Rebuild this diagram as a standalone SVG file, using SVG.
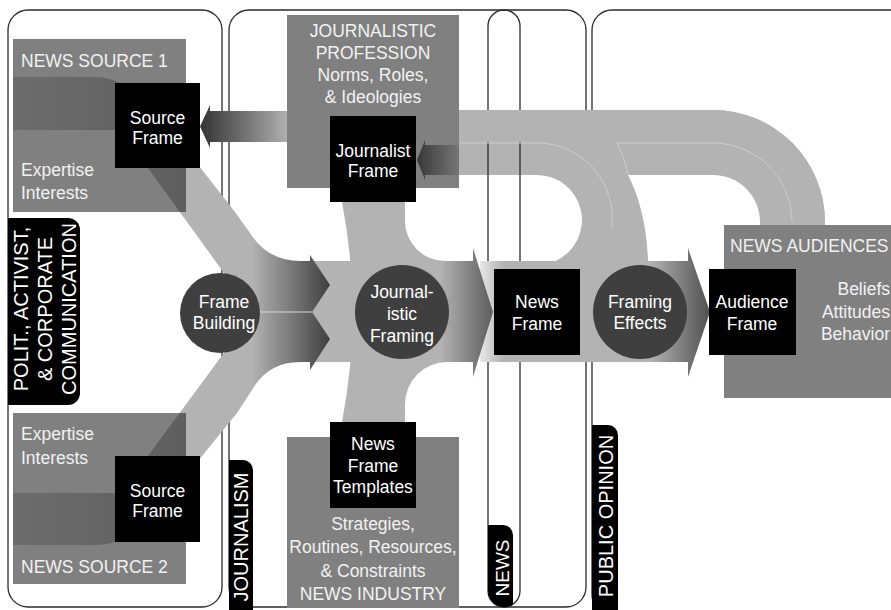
<svg xmlns="http://www.w3.org/2000/svg" width="891" height="610" viewBox="0 0 891 610">
<defs>
<style>
.frm{fill:none;stroke:#2b2b2b;stroke-width:1.3}
.lg{fill:#b3b3b3}
.wh{fill:#fff}
.box{fill:#808080}
.blk{fill:#000}
.cir{fill:#3f3f3f}
.tab{fill:#000}
.hl{fill:none;stroke:#cdcdcd;stroke-width:1}
text{font-family:"Liberation Sans",Arial,sans-serif;font-size:17.5px}
.tw{fill:#fff}
.tg{fill:#f2f2f2}
.c{text-anchor:middle}
.e{text-anchor:end}
.vt{font-size:20px;fill:#fff;text-anchor:middle}
</style>
<linearGradient id="gBand" gradientUnits="userSpaceOnUse" x1="252" y1="0" x2="330" y2="0"><stop offset="0" stop-color="#b3b3b3"/><stop offset="1" stop-color="#3f3f3f"/></linearGradient>
<linearGradient id="gA2" gradientUnits="userSpaceOnUse" x1="440" y1="0" x2="493" y2="0"><stop offset="0" stop-color="#b3b3b3"/><stop offset="1" stop-color="#5c5c5c"/></linearGradient>
<linearGradient id="gA3" gradientUnits="userSpaceOnUse" x1="480" y1="0" x2="710" y2="0"><stop offset="0" stop-color="#e8e8e8"/><stop offset="0.1" stop-color="#b3b3b3"/><stop offset="0.74" stop-color="#b3b3b3"/><stop offset="1" stop-color="#505050"/></linearGradient>
<linearGradient id="gSrc" gradientUnits="userSpaceOnUse" x1="205" y1="0" x2="290" y2="0"><stop offset="0" stop-color="#3a3a3a"/><stop offset="1" stop-color="#b3b3b3"/></linearGradient>
<linearGradient id="gJour" gradientUnits="userSpaceOnUse" x1="418" y1="0" x2="459" y2="0"><stop offset="0" stop-color="#3a3a3a"/><stop offset="1" stop-color="#767676"/></linearGradient>
<linearGradient id="gDark" gradientUnits="userSpaceOnUse" x1="13" y1="0" x2="190" y2="0"><stop offset="0" stop-color="#6c6c6c"/><stop offset="1" stop-color="#5e5e5e"/></linearGradient>
<clipPath id="clipS1"><rect x="13" y="39" width="173" height="173"/></clipPath>
<clipPath id="clipS2"><rect x="13" y="413" width="173" height="171"/></clipPath>
<path id="band1" d="M13,77 H92 C122,77 145,95 163,120 L235,212 L250,233 Q268,261 300,261 H310 V255 L330,285 L312,312 H258 L229,280 L148,168 L120,130 H13 Z"/>
<path id="band2" d="M13,545 H95 C125,545 147,526 163,504 L237,413 L252,390 Q268,362 300,362 H310 V370 L330,339 L312,312 H258 L229,346 L148,456 L118,493 H13 Z"/>
</defs>

<g id="frames">
<rect class="frm" x="8" y="10" width="214" height="597" rx="20"/>
<rect class="frm" x="229" y="10" width="357" height="597" rx="20"/>
<rect class="frm" x="592" y="10" width="330" height="605" rx="20"/>
</g>

<g id="connectors">
<path class="lg" d="M287,110 H713 A112,112 0 0 1 825,222 V226 H724 V261 H405 V143 H287 Z"/>
<path class="lg" d="M342,202 A580,580 0 0 1 342,422 H405 V202 Z"/>
<path class="lg" d="M405,362 H448 A42,42 0 0 0 405,404 Z"/>
<path class="wh" d="M405,175 H537 A45,45 0 0 1 555.5,261 H445 A40,40 0 0 1 405,221 Z"/>
<path class="wh" d="M628,175 H713 A47,47 0 0 1 760,222 V226 H724 V261 H648 C647,228 640,198 628,175 Z"/>
</g>

<g id="news-frame-pill">
<rect class="frm" x="488" y="10" width="32" height="597" rx="16"/>
</g>

<g id="feedback-bands">
<path class="lg" d="M287,110 H713 A112,112 0 0 1 825,222 V226 H793 V222 A80,80 0 0 0 713,142 H287 Z"/>
<path class="hl" d="M460,143 H545"/>
<path class="hl" d="M545,143.4 A75,75 0 0 1 611.5,228"/>
<path class="hl" d="M617,143 H713 A79,79 0 0 1 792,222"/>
<path class="hl" d="M617,143 C624,158 627,168 628,175"/>
<path d="M480,261 H688 V248 L710,312 L688,377 V362 H480 Z" fill="url(#gA3)"/>
<path d="M300,261 H473 V248 L493,312 L473,377 V362 H300 Z" fill="url(#gA2)"/>
<use href="#band1" fill="url(#gBand)"/>
<use href="#band2" fill="url(#gBand)"/>
<path d="M258,312 H312" stroke="#d8d8d8" stroke-width="1" fill="none"/>
</g>

<g id="news-source-1">
<rect class="box" x="13" y="39" width="173" height="173"/>
<use href="#band1" clip-path="url(#clipS1)" fill="url(#gDark)"/>
<rect class="blk" x="115" y="83" width="85" height="85"/>
<text class="tg" x="21" y="67">NEWS SOURCE 1</text>
<text class="tw c" x="157.5" y="124">Source</text>
<text class="tw c" x="157.5" y="144">Frame</text>
<text class="tg" x="21" y="176">Expertise</text>
<text class="tg" x="21" y="199">Interests</text>
</g>

<g id="news-source-2">
<rect class="box" x="13" y="413" width="173" height="171"/>
<use href="#band2" clip-path="url(#clipS2)" fill="url(#gDark)"/>
<rect class="blk" x="115" y="456" width="85" height="86"/>
<text class="tg" x="21" y="440">Expertise</text>
<text class="tg" x="21" y="464">Interests</text>
<text class="tw c" x="157.5" y="497">Source</text>
<text class="tw c" x="157.5" y="517">Frame</text>
<text class="tg" x="21" y="573">NEWS SOURCE 2</text>
</g>

<g id="source-arrow">
<path d="M287,111 H210 V105 L200,126.5 L210,148 V142 H287 Z" fill="url(#gSrc)"/>
</g>

<g id="journalistic-profession">
<rect class="box" x="287" y="15" width="172" height="173"/>
<path d="M459,145 H425 V140 L417,160 L425,180 V175 H459 Z" fill="url(#gJour)"/>
<rect class="blk" x="330" y="116" width="86" height="86"/>
<text class="tg c" x="373" y="37">JOURNALISTIC</text>
<text class="tg c" x="373" y="59">PROFESSION</text>
<text class="tg c" x="373" y="81">Norms, Roles,</text>
<text class="tg c" x="373" y="103">&amp; Ideologies</text>
<text class="tw c" x="373" y="157">Journalist</text>
<text class="tw c" x="373" y="177">Frame</text>
</g>

<g id="news-industry">
<rect class="box" x="287" y="437" width="172" height="171"/>
<rect class="blk" x="330" y="422" width="86" height="86"/>
<text class="tw c" x="373" y="450">News</text>
<text class="tw c" x="373" y="472">Frame</text>
<text class="tw c" x="373" y="493">Templates</text>
<text class="tg c" x="373" y="530">Strategies,</text>
<text class="tg c" x="373" y="553">Routines, Resources,</text>
<text class="tg c" x="373" y="577">&amp; Constraints</text>
<text class="tg c" x="373" y="600">NEWS INDUSTRY</text>
</g>

<g id="news-audiences">
<rect class="box" x="724" y="225" width="180" height="173"/>
<rect class="blk" x="709" y="269" width="87" height="86"/>
<text class="tg" x="730" y="252">NEWS AUDIENCES</text>
<text class="tw c" x="752" y="308">Audience</text>
<text class="tw c" x="752" y="330">Frame</text>
<text class="tg e" x="890" y="295">Beliefs</text>
<text class="tg e" x="890" y="318">Attitudes</text>
<text class="tg e" x="890" y="340">Behavior</text>
</g>

<g id="news-frame">
<rect class="blk" x="494" y="269" width="86" height="86"/>
<text class="tw c" x="537" y="308">News</text>
<text class="tw c" x="537" y="330">Frame</text>
</g>

<g id="frame-building">
<circle class="cir" cx="220" cy="313" r="40"/>
<text class="tw c" x="224" y="308">Frame</text>
<text class="tw c" x="224" y="329">Building</text>
</g>

<g id="journalistic-framing">
<circle class="cir" cx="402" cy="312" r="47"/>
<text class="tw c" x="402" y="298">Journal-</text>
<text class="tw c" x="402" y="320">istic</text>
<text class="tw c" x="402" y="342">Framing</text>
</g>

<g id="framing-effects">
<circle class="cir" cx="640" cy="312" r="47"/>
<text class="tw c" x="640" y="308">Framing</text>
<text class="tw c" x="640" y="329">Effects</text>
</g>

<g id="tab-communication">
<path class="tab" d="M8,218 H68 A12,12 0 0 1 80,230 V393 A12,12 0 0 1 68,405 H8 Z"/>
<text class="vt" transform="translate(27.5,309) rotate(-90)">POLIT., ACTIVIST,</text>
<text class="vt" transform="translate(52,309) rotate(-90)">&amp; CORPORATE</text>
<text class="vt" transform="translate(76,309) rotate(-90)">COMMUNICATION</text>
</g>

<g id="tab-journalism">
<path class="tab" d="M229,460 H243 A10,10 0 0 1 253,470 V612 H229 Z"/>
<text class="vt" transform="translate(248,537) rotate(-90)">JOURNALISM</text>
</g>

<g id="tab-news">
<path class="tab" d="M488,525 H503 A10,10 0 0 1 513,535 V604.2 A16,16 0 0 1 488,591 Z"/>
<text class="vt" style="font-size:19px" transform="translate(509,568) rotate(-90)">NEWS</text>
</g>

<g id="tab-public-opinion">
<path class="tab" d="M592,425 H608 A10,10 0 0 1 618,435 V612 H592 Z"/>
<text class="vt" transform="translate(613,516) rotate(-90)">PUBLIC OPINION</text>
</g>
</svg>
